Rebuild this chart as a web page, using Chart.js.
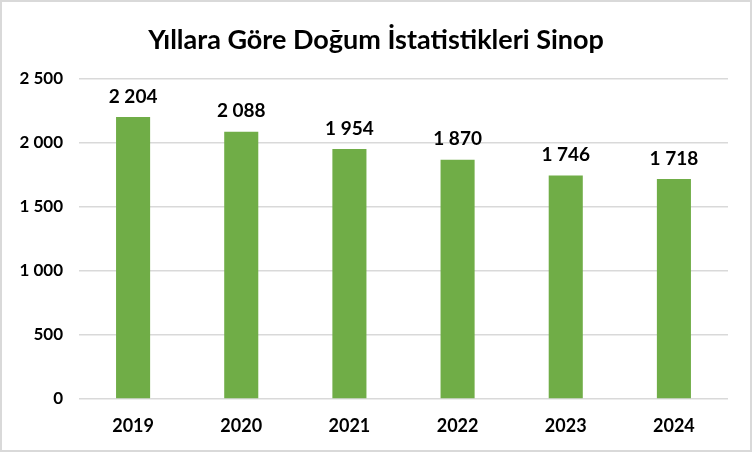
<!DOCTYPE html>
<html>
<head>
<meta charset="utf-8">
<script src="https://cdn.jsdelivr.net/npm/chart.js@4"></script>
<style>
  body { margin: 0; background: #fff; }
  #wrap { width: 752px; height: 452px; box-sizing: border-box; border: 2px solid #d9d9d9; }
</style>
</head>
<body>
<div id="wrap"><canvas id="chart" width="748" height="448"></canvas></div>
<script>
// chart data
const years = ['2019', '2020', '2021', '2022', '2023', '2024'];
const births = [2204, 2088, 1954, 1870, 1746, 1718];
const chartTitle = 'Yıllara Göre Doğum İstatistikleri Sinop';

const fontFamily = 'Lato, "Open Sans", sans-serif';

// "2 500" style numbers
function fmt(n) {
    return String(n).replace(/\B(?=(\d{3})+(?!\d))/g, ' ');
}

// value above each bar + title centred on the whole canvas
const valueLabels = {
    id: 'valueLabels',
    afterDatasetsDraw(chart) {
        const ctx = chart.ctx;
        const meta = chart.getDatasetMeta(0);
        ctx.save();
        ctx.font = 'bold 19px ' + fontFamily;
        ctx.fillStyle = '#000';
        ctx.textAlign = 'center';
        ctx.textBaseline = 'bottom';
        meta.data.forEach((bar, i) => {
            ctx.fillText(fmt(births[i]), bar.x, bar.y - 11);
        });
        ctx.font = 'bold 27px ' + fontFamily;
        ctx.textBaseline = 'middle';
        ctx.fillText(chartTitle, chart.width / 2, 38);
        ctx.restore();
    }
};

new Chart(document.getElementById('chart'), {
    type: 'bar',
    data: {
        labels: years,
        datasets: [{
            data: births,
            backgroundColor: '#70AD47',
            categoryPercentage: 1,
            barPercentage: 0.315
        }]
    },
    options: {
        responsive: false,
        animation: false,
        layout: { padding: { left: 0, right: 22, top: 77, bottom: 0 } },
        plugins: {
            legend: { display: false },
            tooltip: { enabled: false },
            title: { display: false }
        },
        scales: {
            x: {
                grid: { display: false },
                border: { display: false },
                ticks: { color: '#000', font: { family: fontFamily, size: 18, weight: 'bold' }, padding: 8 },
                afterFit(scale) { scale.height = 51; }
            },
            y: {
                min: 0,
                max: 2500,
                ticks: {
                    stepSize: 500,
                    color: '#000',
                    font: { family: fontFamily, size: 17, weight: 'bold' },
                    padding: 16,
                    callback: v => fmt(v)
                },
                grid: { color: '#d9d9d9', lineWidth: 1.5, drawTicks: false },
                border: { display: false },
                afterFit(scale) { scale.width = 77; }
            }
        }
    },
    plugins: [valueLabels]
});
</script>
</body>
</html>
